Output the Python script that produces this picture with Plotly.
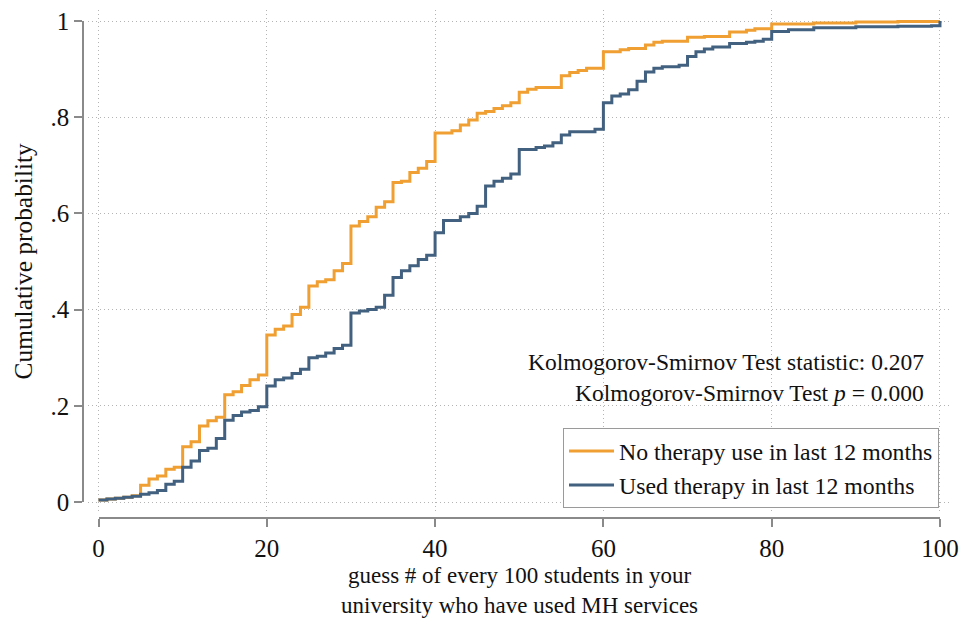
import plotly.graph_objects as go

# Empirical CDF of guesses, by therapy use in the last 12 months
no_therapy_x = [0, 1, 2, 3, 4, 5, 6, 7, 8, 9, 10, 11, 12, 13, 14, 15, 16, 17, 18, 19,
                20, 21, 22, 23, 24, 25, 26, 27, 28, 29, 30, 31, 32, 33, 34, 35, 36, 37,
                38, 39, 40, 42, 43, 44, 45, 46, 47, 48, 49, 50, 51, 52, 55, 56, 57, 58,
                60, 62, 63, 65, 66, 67, 70, 72, 75, 77, 78, 80, 85, 90, 95, 100]
no_therapy_y = [0.004, 0.006, 0.008, 0.010, 0.013, 0.035, 0.048, 0.054, 0.068, 0.072,
                0.115, 0.125, 0.158, 0.169, 0.176, 0.223, 0.229, 0.242, 0.254, 0.264,
                0.347, 0.359, 0.366, 0.390, 0.405, 0.449, 0.458, 0.462, 0.481, 0.496,
                0.574, 0.583, 0.593, 0.613, 0.624, 0.664, 0.667, 0.685, 0.694, 0.708,
                0.767, 0.772, 0.784, 0.794, 0.808, 0.812, 0.818, 0.824, 0.830, 0.852,
                0.858, 0.862, 0.886, 0.893, 0.897, 0.902, 0.936, 0.940, 0.943, 0.950,
                0.956, 0.958, 0.966, 0.968, 0.977, 0.981, 0.984, 0.994, 0.996, 0.998,
                0.999, 1.000]

therapy_x = [0, 1, 2, 3, 4, 5, 6, 7, 8, 9, 10, 11, 12, 13, 14, 15, 16, 17, 18, 19,
             20, 21, 22, 23, 24, 25, 26, 27, 28, 29, 30, 31, 32, 33, 34, 35, 36, 37,
             38, 39, 40, 41, 43, 44, 45, 46, 47, 48, 49, 50, 52, 53, 54, 55, 56, 59,
             60, 61, 62, 63, 64, 65, 66, 67, 69, 70, 71, 72, 73, 75, 77, 78, 79, 80,
             82, 85, 90, 95, 99, 100]
therapy_y = [0.004, 0.006, 0.008, 0.010, 0.012, 0.016, 0.019, 0.024, 0.037, 0.043,
             0.072, 0.085, 0.107, 0.112, 0.132, 0.170, 0.180, 0.187, 0.190, 0.198,
             0.241, 0.254, 0.258, 0.267, 0.276, 0.300, 0.303, 0.310, 0.319, 0.326,
             0.393, 0.397, 0.400, 0.405, 0.430, 0.467, 0.481, 0.491, 0.504, 0.513,
             0.560, 0.585, 0.593, 0.600, 0.615, 0.657, 0.667, 0.673, 0.682, 0.733,
             0.737, 0.740, 0.747, 0.763, 0.770, 0.775, 0.830, 0.844, 0.848, 0.857,
             0.875, 0.894, 0.902, 0.905, 0.908, 0.926, 0.936, 0.942, 0.946, 0.953,
             0.956, 0.958, 0.962, 0.978, 0.982, 0.986, 0.988, 0.989, 0.990, 1.000]

series_names = ["No therapy use in last 12 months", "Used therapy in last 12 months"]
series_colors = ["#F0A032", "#42607F"]

x_ticks = [0, 20, 40, 60, 80, 100]
y_ticks = [0, 0.2, 0.4, 0.6, 0.8, 1.0]
y_tick_text = ["0", ".2", ".4", ".6", ".8", "1"]

ks_lines = ["Kolmogorov-Smirnov Test statistic: 0.207",
            "Kolmogorov-Smirnov Test <i>p</i> = 0.000"]
x_title = "guess # of every 100 students in your<br>university who have used MH services"
y_title = "Cumulative probability"

SERIF = "Liberation Serif"
INK = "#111111"
AXIS_GRAY = "#8a8a8a"
GRID_GRAY = "#b4b4b4"

fig = go.Figure()
for xs, ys, name, color in [(no_therapy_x, no_therapy_y, series_names[0], series_colors[0]),
                            (therapy_x, therapy_y, series_names[1], series_colors[1])]:
    fig.add_trace(go.Scatter(x=xs, y=ys, mode="lines", name=name,
                             line=dict(color=color, width=3, shape="hv")))

# empty trace so the offset axis pair is drawn
fig.add_trace(go.Scatter(x=[], y=[], xaxis="x2", yaxis="y2", showlegend=False,
                         hoverinfo="skip"))

fig.update_layout(
    width=961, height=618,
    margin=dict(l=40, r=11, t=10, b=60, autoexpand=False),
    paper_bgcolor="white", plot_bgcolor="rgba(0,0,0,0)",
    font=dict(family=SERIF, size=24, color=INK),
    showlegend=True,
    legend=dict(x=(563 - 40) / 910, y=0.0912, xanchor="left", yanchor="bottom",
                bordercolor="#9a9a9a", borderwidth=1, bgcolor="white",
                font=dict(family=SERIF, size=23.8, color=INK),
                itemwidth=45, tracegroupgap=0),
    # plot region with dotted grid
    xaxis=dict(domain=[0.05275, 1], range=[-1.248, 101.19], tickvals=x_ticks,
               showgrid=True, gridcolor=GRID_GRAY, griddash="1px,3px", gridwidth=1,
               showticklabels=False, ticks="", zeroline=False, showline=False,
               automargin=False),
    yaxis=dict(domain=[0.08394, 1], range=[-0.0208, 1.0229], tickvals=y_ticks,
               showgrid=True, gridcolor=GRID_GRAY, griddash="1px,3px", gridwidth=1,
               showticklabels=False, ticks="", zeroline=False, showline=False,
               automargin=False),
    # offset axes spanning the data range
    xaxis2=dict(domain=[0.06429, 0.98901], range=[0, 100], anchor="free",
                position=0.07299, tickvals=x_ticks, ticks="outside", ticklen=8,
                tickwidth=1.5, tickcolor=AXIS_GRAY, showline=True, linecolor=AXIS_GRAY,
                linewidth=1.5, showgrid=False, zeroline=False, automargin=False,
                tickfont=dict(family=SERIF, size=25, color=INK)),
    yaxis2=dict(domain=[0.10219, 0.97993], range=[0, 1], anchor="free",
                position=0.04725, tickvals=y_ticks, ticktext=y_tick_text,
                ticks="outside", ticklen=8, tickwidth=1.5, tickcolor=AXIS_GRAY,
                showline=True, linecolor=AXIS_GRAY, linewidth=1.5, showgrid=False,
                zeroline=False, automargin=False,
                tickfont=dict(family=SERIF, size=25, color=INK)),
)

for text, ypos in zip(ks_lines, [0.3577, 0.3011]):
    fig.add_annotation(text=text, x=0.9736, y=ypos, xref="paper", yref="paper",
                       xanchor="right", yanchor="middle", showarrow=False,
                       font=dict(family=SERIF, size=23.5, color=INK))

fig.add_annotation(text=x_title, x=0.5264, y=(558 - 590) / 548,
                   xref="paper", yref="paper", xanchor="center", yanchor="middle",
                   showarrow=False, font=dict(family=SERIF, size=23, color=INK))
fig.add_annotation(text=y_title, x=(22 - 40) / 910, y=(558 - 261.5) / 548,
                   xref="paper", yref="paper", xanchor="center", yanchor="middle",
                   textangle=-90, showarrow=False,
                   font=dict(family=SERIF, size=25.4, color=INK))

fig.write_html("out.html")
